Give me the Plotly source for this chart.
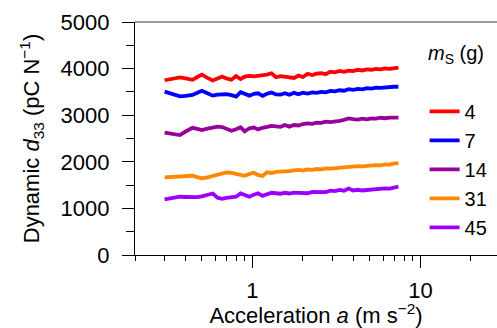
import plotly.graph_objects as go

# Acceleration sweep (m s^-2)
accel = [0.30, 0.33, 0.37, 0.40, 0.44, 0.47, 0.50, 0.54, 0.58, 0.62,
         0.66, 0.70, 0.75, 0.80, 0.85, 0.90, 0.96, 1.02, 1.08, 1.15,
         1.22, 1.30, 1.38, 1.47, 1.56, 1.66, 1.77, 1.88, 2.00, 2.13,
         2.27, 2.41, 2.57, 2.73, 2.91, 3.10, 3.30, 3.51, 3.74, 3.98,
         4.24, 4.51, 4.80, 5.11, 5.44, 5.79, 6.16, 6.56, 6.98, 7.40]

# Dynamic d33 (pC/N) for each seismic mass
d33_4g = [3750, 3780, 3810, 3790, 3760, 3820, 3870, 3800, 3745, 3790,
          3830, 3790, 3760, 3840, 3775, 3830, 3845, 3835, 3845, 3850,
          3870, 3900, 3815, 3840, 3830, 3830, 3800, 3850, 3820, 3890,
          3860, 3890, 3900, 3880, 3935, 3920, 3950, 3930, 3955, 3945,
          3975, 3960, 3985, 3975, 3995, 3985, 4005, 3995, 4015, 4020]
d33_7g = [3505, 3460, 3405, 3415, 3435, 3480, 3525, 3470, 3420, 3440,
          3445, 3450, 3430, 3400, 3495, 3450, 3420, 3460, 3470, 3415,
          3460, 3485, 3445, 3440, 3470, 3440, 3480, 3450, 3485, 3465,
          3490, 3480, 3500, 3490, 3520, 3510, 3535, 3525, 3560, 3545,
          3565, 3555, 3580, 3570, 3590, 3585, 3600, 3595, 3610, 3610]
d33_14g = [2625, 2600, 2575, 2650, 2730, 2705, 2680, 2710, 2735, 2755,
           2745, 2700, 2665, 2700, 2740, 2655, 2720, 2735, 2695, 2730,
           2750, 2770, 2760, 2750, 2790, 2755, 2790, 2780, 2810, 2825,
           2815, 2840, 2835, 2860, 2850, 2875, 2880, 2900, 2930, 2915,
           2905, 2925, 2910, 2930, 2925, 2945, 2935, 2950, 2940, 2950]
d33_31g = [1665, 1670, 1680, 1690, 1700, 1670, 1645, 1665, 1690, 1715,
           1740, 1770, 1760, 1735, 1715, 1700, 1740, 1765, 1720, 1695,
           1775, 1760, 1785, 1790, 1780, 1800, 1815, 1825, 1810, 1835,
           1825, 1845, 1840, 1860, 1855, 1865, 1860, 1885, 1895, 1890,
           1905, 1900, 1915, 1910, 1930, 1925, 1945, 1940, 1965, 1965]
d33_45g = [1195, 1215, 1250, 1245, 1240, 1240, 1260, 1300, 1320, 1230,
           1205, 1225, 1245, 1250, 1320, 1290, 1250, 1295, 1325, 1270,
           1295, 1335, 1325, 1315, 1335, 1320, 1340, 1330, 1340, 1325,
           1355, 1350, 1365, 1350, 1380, 1370, 1395, 1380, 1425, 1385,
           1400, 1385, 1395, 1405, 1420, 1410, 1430, 1425, 1450, 1465]

mass_labels = ["4", "7", "14", "31", "45"]
series = [d33_4g, d33_7g, d33_14g, d33_31g, d33_45g]
colors = ["#FF0000", "#0000FF", "#990099", "#FF8800", "#9B00FF"]

x_major = [1, 10]
x_minor = [0.2, 0.3, 0.4, 0.5, 0.6, 0.7, 0.8, 0.9,
           2, 3, 4, 5, 6, 7, 8, 9, 20]

FONT = "Liberation Sans, Arial, sans-serif"
AX_SIZE = 22

fig = go.Figure()
for name, vals, col in zip(mass_labels, series, colors):
    fig.add_trace(go.Scatter(x=accel, y=vals, mode="lines", name=name,
                             line=dict(color=col, width=3.8)))

fig.update_layout(
    width=497, height=328,
    margin=dict(l=135, r=0, t=22, b=73),
    paper_bgcolor="white", plot_bgcolor="white",
    font=dict(family=FONT, size=AX_SIZE, color="black"),
    showlegend=True,
    legend=dict(x=0.80, y=0.70, xanchor="left", yanchor="top",
                bgcolor="rgba(0,0,0,0)", font=dict(size=20),
                tracegroupgap=0, itemwidth=30),
)

fig.update_xaxes(
    type="log", range=[-0.699, 1.456],
    tickmode="array", tickvals=x_major, ticktext=["1", "10"],
    ticks="outside", ticklen=12, tickwidth=1.3, tickcolor="black",
    showline=True, linecolor="black", linewidth=1.3,
    showgrid=False, zeroline=False, ticklabelstandoff=3,
    minor=dict(tickmode="array", tickvals=x_minor, ticks="outside",
               ticklen=5, tickwidth=1.3, tickcolor="black", showgrid=False),
    title=dict(text="Acceleration <i>a</i> (m s<sup>\u22122</sup>)",
               font=dict(size=AX_SIZE), standoff=4),
)
fig.update_yaxes(
    range=[0, 5000], tickmode="linear", tick0=0, dtick=1000,
    ticks="outside", ticklen=12, tickwidth=1.3, tickcolor="black",
    showline=True, linecolor="black", linewidth=1.3,
    showgrid=False, zeroline=False, ticklabelstandoff=8,
    minor=dict(dtick=500, ticks="outside", ticklen=8, tickwidth=1.3,
               tickcolor="black", showgrid=False),
    title=dict(text="Dynamic <i>d</i><sub>33</sub> (pC N<sup>\u22121</sup>)",
               font=dict(size=AX_SIZE), standoff=14),
)

# grey frame line along the top of the plotting area
fig.add_shape(type="line", xref="paper", yref="paper", x0=0, x1=1, y0=1, y1=1,
              line=dict(color="#777777", width=1.3))

# legend heading
fig.add_annotation(xref="paper", yref="paper", x=0.805, y=0.86,
                   xanchor="left", yanchor="middle", showarrow=False,
                   text="<i>m</i><sub>S</sub> (g)", font=dict(size=20))

fig.write_html("out.html")
